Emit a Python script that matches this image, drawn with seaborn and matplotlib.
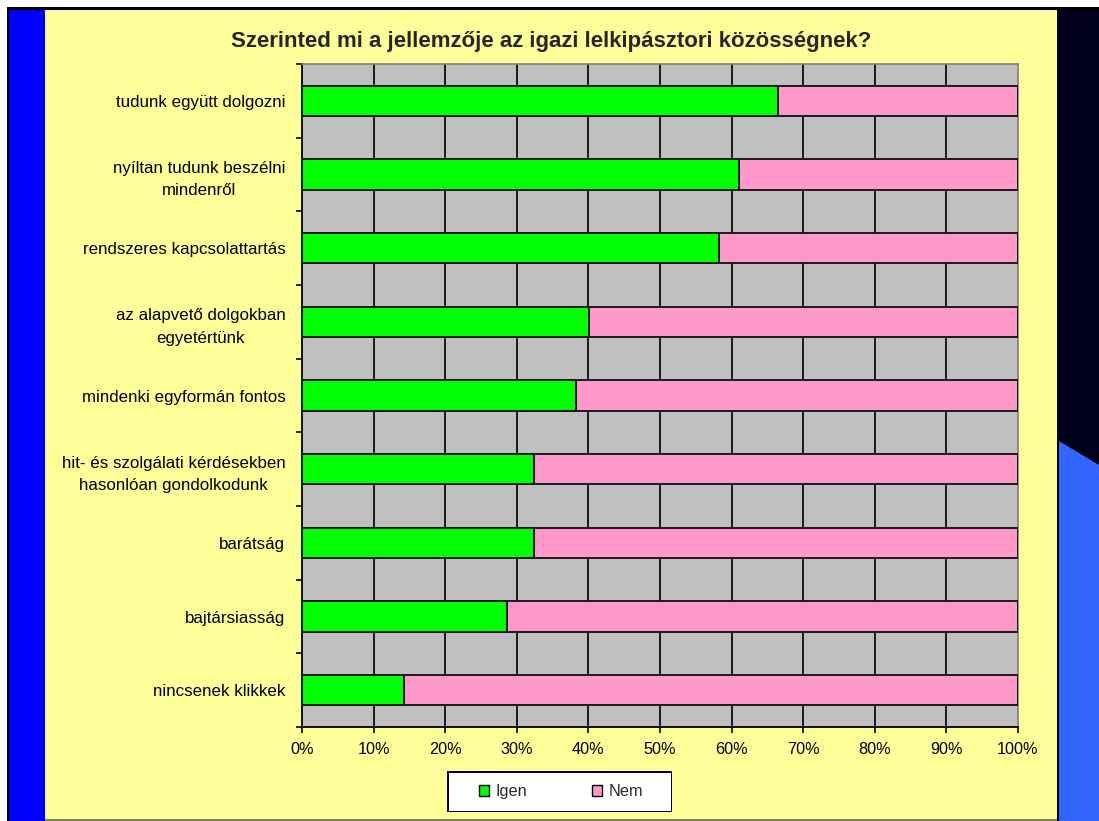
import numpy as np
import pandas as pd
import seaborn as sns
import matplotlib.pyplot as plt
from matplotlib.patches import Rectangle, Polygon, Patch
from matplotlib.ticker import FixedLocator, PercentFormatter

categories = [
    "tudunk együtt dolgozni",
    "nyíltan tudunk beszélni\nmindenről",
    "rendszeres kapcsolattartás",
    "az alapvető dolgokban\negyetértünk",
    "mindenki egyformán fontos",
    "hit- és szolgálati kérdésekben\nhasonlóan gondolkodunk",
    "barátság",
    "bajtársiasság",
    "nincsenek klikkek",
]
igen = [0.665, 0.610, 0.582, 0.401, 0.382, 0.324, 0.324, 0.287, 0.142]
nem = [1 - v for v in igen]
series_names = ["Igen", "Nem"]
xticks = np.arange(0, 1.01, 0.1)

GREEN = "#00FF00"
PINK = "#FF99CC"
YELLOW = "#FFFF99"

df = pd.DataFrame({"cat": categories, "Igen": igen, "Nem": nem})
df["total"] = df["Igen"] + df["Nem"]

sns.set_style("white")
plt.rcParams["font.family"] = ["Liberation Sans", "DejaVu Sans"]

W, H = 1099, 821
fig = plt.figure(figsize=(W / 100, H / 100), dpi=100, facecolor=YELLOW)


def box(x0, y0, x1, y1, color, z=-5):
    fig.add_artist(Rectangle((x0 / W, 1 - y1 / H), (x1 - x0) / W, (y1 - y0) / H,
                             transform=fig.transFigure, color=color, lw=0, zorder=z))


# slide background
box(0, 0, W, 7, "white")
box(0, 0, 7, H, "white")
box(7, 7, W, 10, "black")
box(7, 7, 9, H, "black")
box(9, 10, 45, H, "#0000FF")
box(1057, 7, W, H, "black")
box(1059, 10, W, H, "#00001A")
box(45, 819, 1057, H, "#808060")
fig.add_artist(Polygon([(1059 / W, 1 - 441 / H), (1, 1 - 465 / H), (1, 0), (1059 / W, 0)],
                       closed=True, transform=fig.transFigure, color="#3366FF", lw=0, zorder=-4))

ax = fig.add_axes([302 / W, 1 - 727 / H, (1018 - 302) / W, (727 - 64) / H])
ax.set_facecolor("#C0C0C0")

sns.barplot(data=df, x="total", y="cat", orient="h", color=PINK, width=0.41,
            edgecolor="#1a1a1a", linewidth=1.4, saturation=1, ax=ax, zorder=3)
sns.barplot(data=df, x="Igen", y="cat", orient="h", color=GREEN, width=0.41,
            edgecolor="#1a1a1a", linewidth=1.4, saturation=1, ax=ax, zorder=4)

n = len(categories)
ax.set_xlim(0, 1)
ax.set_ylim(n - 0.5, -0.5)
ax.set_xticks(xticks)
ax.xaxis.set_major_formatter(PercentFormatter(1.0, decimals=0))
ax.yaxis.set_minor_locator(FixedLocator(np.arange(-0.5, n, 1.0)))

# only vertical gridlines, like the original
for x in xticks[1:-1]:
    ax.axvline(x, color="#1a1a1a", lw=1.4, zorder=1)

ax.set_xlabel("")
ax.set_ylabel("")
ax.tick_params(axis="y", which="major", length=0, pad=12, labelsize=12.2, colors="black")
ax.tick_params(axis="y", which="minor", length=4, width=1.2, direction="out", left=True, color="black")
ax.tick_params(axis="x", which="major", length=4, width=1.2, direction="out", bottom=True,
               pad=7, labelsize=11.7, colors="black")
for lab in ax.get_yticklabels():
    lab.set_multialignment("center")
    lab.set_linespacing(1.6)

for side in ["left", "bottom"]:
    ax.spines[side].set_color("black")
    ax.spines[side].set_linewidth(1.3)
for side in ["top", "right"]:
    ax.spines[side].set_color("#808080")
    ax.spines[side].set_linewidth(1.2)

fig.text(551 / W, 1 - 42 / H, "Szerinted mi a jellemzője az igazi lelkipásztori közösségnek?",
         ha="center", va="center", fontsize=16, fontweight="bold")

# legend box drawn by hand so the padding matches
box(447, 771, 672, 812, "black", z=5)
box(448.5, 772.5, 670.5, 810.5, "white", z=6)
handles = [Patch(facecolor=GREEN, edgecolor="black", lw=1), Patch(facecolor=PINK, edgecolor="black", lw=1)]
leg = fig.legend(handles, series_names, loc="center", bbox_to_anchor=(561 / W, 1 - 791.5 / H),
                 ncol=2, frameon=False, fontsize=11.7, handlelength=0.62, handleheight=0.62,
                 handletextpad=0.4, columnspacing=4.0, borderpad=0.3)
leg.set_zorder(7)

fig.savefig("out.png", dpi=100, facecolor=YELLOW)
